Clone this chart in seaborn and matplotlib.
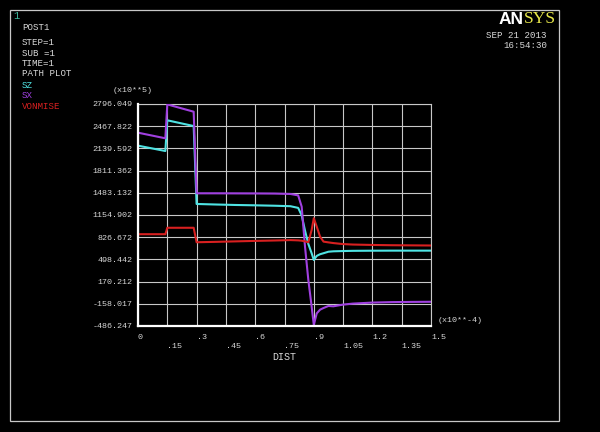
import matplotlib
matplotlib.use("Agg")
import matplotlib.pyplot as plt
import pandas as pd
import seaborn as sns
from matplotlib.patches import Rectangle

# ---------------- data ----------------
dist = [0.0, 0.14, 0.15, 0.285, 0.30, 0.40, 0.50, 0.60, 0.70, 0.78, 0.82,
        0.838, 0.855, 0.872, 0.889, 0.90, 0.915, 0.932, 0.95, 0.975, 1.0,
        1.05, 1.1, 1.2, 1.3, 1.4, 1.5]
sz = [2180, 2101, 2555, 2470, 1318, 1310, 1303, 1298, 1292, 1285, 1260,
      1150, 924, 727, 589, 490, 550, 575, 590, 612, 618,
      622, 625, 627, 628, 628, 628]
sx = [2372, 2289, 2790, 2682, 1476, 1476, 1475, 1474, 1472, 1466, 1445,
      1278, 687, 195, -200, -470, -300, -245, -220, -190, -195,
      -170, -155, -140, -133, -130, -128]
vonmise = [871, 871, 966, 966, 752, 758, 765, 772, 778, 784, 780,
           775, 765, 752, 934, 1107, 983, 835, 761, 750, 740,
           725, 718, 712, 708, 706, 704]

series_names = ["SZ", "SX", "VONMISE"]
series_colors = ["#4fe3e3", "#a040e0", "#d82020"]

y_ticks = [-486.247, -158.017, 170.212, 498.442, 826.672, 1154.902,
           1483.132, 1811.362, 2139.592, 2467.822, 2796.049]
y_tick_labels = ["-486.247", "-158.017", "170.212", "498.442", "826.672",
                 "1154.902", "1483.132", "1811.362", "2139.592", "2467.822",
                 "2796.049"]
x_ticks = [0, 0.15, 0.3, 0.45, 0.6, 0.75, 0.9, 1.05, 1.2, 1.35, 1.5]
x_tick_labels = ["0", ".15", ".3", ".45", ".6", ".75", ".9", "1.05", "1.2",
                 "1.35", "1.5"]

header_lines = ["POST1", "STEP=1", "SUB =1", "TIME=1", "PATH PLOT"]

# ---------------- figure ----------------
W, H = 600, 432
fig = plt.figure(figsize=(6, 4.32), dpi=100, facecolor="black")
MONO = ["Liberation Mono", "DejaVu Sans Mono"]
TXT = "#d8d8d8"

def fx(x):
    return x / W

def fy(y):
    return 1 - y / H

ax = fig.add_axes([fx(138), fy(326), fx(431) - fx(138), (326 - 104) / H])
ax.set_facecolor("black")

df = pd.concat([
    pd.DataFrame({"DIST": dist, "value": vals, "series": name})
    for name, vals in zip(series_names, [sz, sx, vonmise])
], ignore_index=True)

sns.lineplot(data=df, x="DIST", y="value", hue="series",
             hue_order=series_names, palette=series_colors,
             sort=False, estimator=None, legend=False, linewidth=1.5, ax=ax,
             zorder=3)

ax.set_xlim(0, 1.5)
ax.set_ylim(y_ticks[0], y_ticks[-1])
ax.set_xticks(x_ticks)
ax.set_xticklabels([("\n" + t) if i % 2 else t for i, t in enumerate(x_tick_labels)],
                   ha="left", fontfamily=MONO, fontsize=6, color=TXT,
                   linespacing=1.25)
ax.set_yticks(y_ticks)
ax.set_yticklabels(y_tick_labels, fontfamily=MONO, fontsize=6, color=TXT)
ax.tick_params(axis="both", length=0, pad=4)
ax.tick_params(axis="x", pad=6)
ax.grid(True, color="#c8c8c8", linewidth=0.8, zorder=1)
ax.set_axisbelow(True)
for side in ["top", "right"]:
    ax.spines[side].set_color("#c8c8c8")
    ax.spines[side].set_linewidth(0.8)
for side in ["left", "bottom"]:
    ax.spines[side].set_color("white")
    ax.spines[side].set_linewidth(1.6)
    ax.spines[side].set_zorder(4)
ax.set_xlabel("DIST", fontfamily=MONO, fontsize=7.2, color=TXT, labelpad=2)
ax.set_ylabel("")

# ---------------- annotations ----------------
fig.patches.append(Rectangle((fx(10), fy(421)), fx(559) - fx(10), (421 - 10) / H,
                             transform=fig.transFigure, fill=False,
                             edgecolor="#c8c8c8", linewidth=0.9))

fig.text(fx(13), fy(16), "1", color="#3cb49a", fontsize=7.5, fontfamily=MONO,
         va="center", ha="left")
for i, line in enumerate(header_lines):
    y = 27 if i == 0 else 42.5 + (i - 1) * 10.5
    fig.text(fx(22), fy(y), line, color=TXT, fontsize=6.6, fontfamily=MONO,
             va="center", ha="left")
for i, (name, col) in enumerate(zip(series_names, series_colors)):
    fig.text(fx(22), fy(85 + i * 10.8), name, color=col, fontsize=6.6,
             fontfamily=MONO, va="center", ha="left")

fig.text(fx(113), fy(90), "(x10**5)", color=TXT, fontsize=6, fontfamily=MONO,
         va="center", ha="left")
fig.text(fx(438), fy(320), "(x10**-4)", color=TXT, fontsize=6, fontfamily=MONO,
         va="center", ha="left")

# ANSYS logo
t1 = fig.text(fx(499), fy(19), "AN", color="white", fontsize=12.5,
              fontfamily="Liberation Sans", fontweight="bold", va="center",
              ha="left")
fig.canvas.draw()
bb = t1.get_window_extent()
fig.text(bb.x1 / W, fy(19), "SYS", color="#e8e84a", fontsize=12.5,
         fontfamily="Liberation Serif", va="center", ha="left")

fig.text(fx(547), fy(35.5), "SEP 21 2013", color=TXT, fontsize=6.6,
         fontfamily=MONO, va="center", ha="right")
fig.text(fx(547), fy(45.5), "16:54:30", color=TXT, fontsize=6.6,
         fontfamily=MONO, va="center", ha="right")

fig.savefig("out.png", dpi=100, facecolor="black")
